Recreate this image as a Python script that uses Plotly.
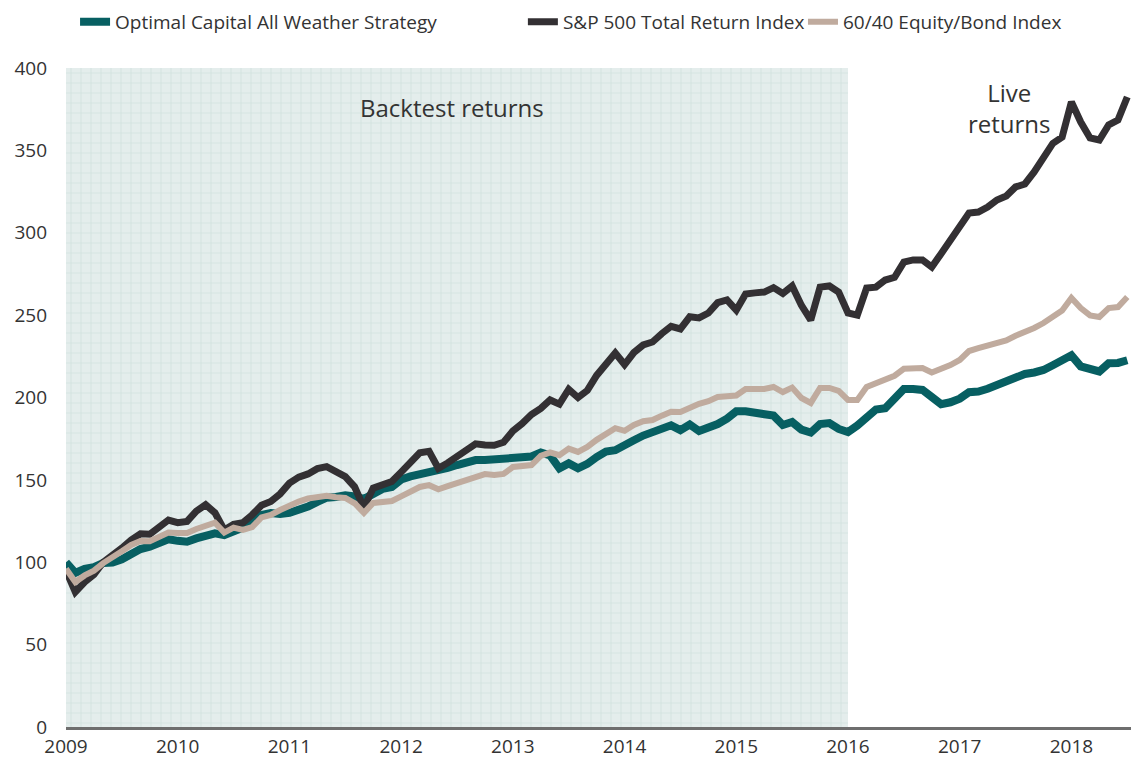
import plotly.graph_objects as go

# ---- data (monthly, Jan 2009 .. Jul 2018) ----
years = ["2009", "2010", "2011", "2012", "2013", "2014", "2015", "2016", "2017", "2018"]
series_names = ["Optimal Capital All Weather Strategy", "S&P 500 Total Return Index", "60/40 Equity/Bond Index"]

all_weather = [
    100, 93.5, 96, 97, 99.5, 99.8, 101.8, 105, 108, 109.5,
    111.5, 114, 113, 112.5, 114.5, 116.5, 117.5, 116.5, 118.5, 121,
    124.4, 128.7, 129.9, 129.3, 130, 131.7, 133.8, 136.6, 139.2, 139.6,
    140.6, 139.9, 138.4, 141.5, 144.5, 145.7, 150.2, 152.1, 153.2, 154.2,
    155.4, 157.2, 159, 160.8, 162, 162, 162.4, 163, 163.5, 163.3,
    164.2, 166.6, 164.8, 157, 160, 157, 159.7, 163.9, 167.2, 168,
    170.4, 174, 176.9, 179.2, 181.7, 183.1, 180.2, 183.6, 179.7, 181.6,
    183.9, 187.2, 191.6, 191.6, 190.8, 190, 189, 183.3, 185.1, 180.5,
    178.7, 183.9, 184.5, 180.9, 179, 183, 188.6, 192.7, 193.5, 198.8,
    205.2, 205.2, 204.6, 200.3, 195.9, 197.1, 199.3, 203.2, 203.6, 205.3,
    207.6, 208.8, 211.2, 214.3, 215.2, 216.7, 219.6, 222.6, 225.6, 218.9,
    217.9, 215.8, 220.8, 221, 222.6,
]

sp500 = [
    95, 82, 88, 92.5, 100, 104, 108.6, 113.5, 117.3, 117,
    121.7, 125.6, 124, 124.8, 131, 134.9, 130, 119.6, 123, 124,
    128.8, 134.6, 136.9, 141.5, 148, 151.7, 153.6, 156.8, 158, 155,
    152, 145.8, 133, 145, 147.2, 149, 154.7, 160.9, 166.4, 167.3,
    157, 160.3, 164.2, 167.8, 171.9, 171.2, 171, 172.8, 179.7, 184.2,
    189.7, 193.4, 198.5, 196, 205, 200, 204.3, 213.4, 220.6, 227,
    220, 227.3, 231.9, 233.7, 238.8, 243.2, 241.6, 249, 248.3, 251.3,
    257.6, 259.2, 253, 262.8, 263.5, 264, 266.7, 263.2, 267.7, 255.9,
    247, 267, 267.7, 264, 251.3, 250, 266.4, 267, 271.3, 273,
    282.2, 283.5, 283.5, 279.2, 287.3, 295, 303.5, 312, 312.6, 315.6,
    319.9, 322.3, 327.8, 329.6, 336.9, 345.4, 354.2, 358, 379.4, 367.2,
    357.5, 356.3, 365.4, 368.4, 382.4,
]

equity_bond = [
    96, 88, 92, 94.9, 99.5, 102.6, 106.7, 110.5, 112.9, 112.7,
    115.6, 118, 117.7, 117.8, 120.2, 122.4, 124, 118, 121, 119.6,
    121.3, 127.2, 128.7, 131.7, 134.6, 136.8, 138.7, 139.8, 140.4, 139.5,
    139, 135.8, 130, 136, 136.6, 137.2, 140, 142.8, 145.7, 146.8,
    144.3, 146.2, 148.2, 150.2, 152.3, 153.5, 153, 153.6, 157.8, 158.6,
    159, 164.6, 166.7, 165, 169, 167, 170, 174.3, 177.7, 181.4,
    179.8, 183.3, 185.6, 186.3, 189, 191.4, 191.2, 194.2, 196.2, 197.8,
    200.3, 200.8, 201.2, 205.2, 205, 205.2, 206.4, 203.3, 206, 199.7,
    196.7, 205.8, 205.8, 204, 198.5, 198.5, 206.4, 208.8, 210.6, 213.2,
    217.4, 217.9, 217.9, 215.2, 217, 219.7, 222.8, 228.2, 229.9, 231.7,
    233.7, 234.7, 237.5, 239.4, 242.2, 245.2, 248.9, 252.8, 260.4, 254.3,
    249.8, 248.9, 254.3, 254.9, 261,
]

backtest_end_year = "2016"
y_ticks = [0, 50, 100, 150, 200, 250, 300, 350, 400]

# ---- figure ----
FONT = "Open Sans, Lato, sans-serif"
TXT = "#333333"
colors = ["#075f62", "#333033", "#c0ab9e"]
widths = [8, 7, 6]

months = list(range(len(sp500)))
tick_pos = [12 * k for k in range(len(years))]
bt_end = years.index(backtest_end_year) * 12
y_max = y_ticks[-1]

fig = go.Figure()

# backtest shaded region with grid pattern
fig.add_trace(go.Scatter(
    x=[0, bt_end, bt_end, 0, 0], y=[0, 0, y_max, y_max, 0],
    mode="none", fill="toself",
    fillcolor="#e4edec",
    fillpattern=dict(shape="+", bgcolor="#e4edec", fgcolor="#c6d9d6", size=10, solidity=0.2),
    hoverinfo="skip", showlegend=False,
))

legend_ids = ["legend", "legend2", "legend3"]
for name, vals, c, w, lg in zip(series_names, [all_weather, sp500, equity_bond], colors, widths, legend_ids):
    fig.add_trace(go.Scatter(
        x=months[:len(vals)], y=vals, mode="lines", name=name,
        line=dict(color=c, width=w), legend=lg,
    ))

fig.add_annotation(x=41.5, y=376, text="Backtest returns", showarrow=False,
                   font=dict(family=FONT, size=24, color=TXT))
fig.add_annotation(x=101.4, y=376, text="Live<br>returns", showarrow=False,
                   font=dict(family=FONT, size=24, color=TXT))

def leg(xp):
    return dict(x=xp, y=1.07, xanchor="left", yanchor="middle", orientation="h",
                bgcolor="rgba(0,0,0,0)", borderwidth=0,
                font=dict(family=FONT, size=19, color=TXT))

fig.update_layout(
    width=1131, height=759,
    margin=dict(l=66, r=0, t=68, b=32),
    paper_bgcolor="white", plot_bgcolor="white",
    font=dict(family=FONT, size=19, color=TXT),
    legend=leg(0.0085), legend2=leg(0.429), legend3=leg(0.692),
    xaxis=dict(range=[0, 114.4], tickmode="array", tickvals=tick_pos, ticktext=years,
               showgrid=False, zeroline=False, showline=True, linecolor="#6e6e6e",
               linewidth=3, ticks="", tickfont=dict(family=FONT, size=19, color=TXT)),
    yaxis=dict(range=[0, y_max], tickmode="array", tickvals=y_ticks,
               showgrid=False, zeroline=False, showline=False, ticks="",
               ticklabelstandoff=18,
               tickfont=dict(family=FONT, size=19, color=TXT)),
)

fig.write_html("out.html", config={"displayModeBar": False},
               post_script="document.body.style.margin='0px';document.body.style.overflow='hidden';")
